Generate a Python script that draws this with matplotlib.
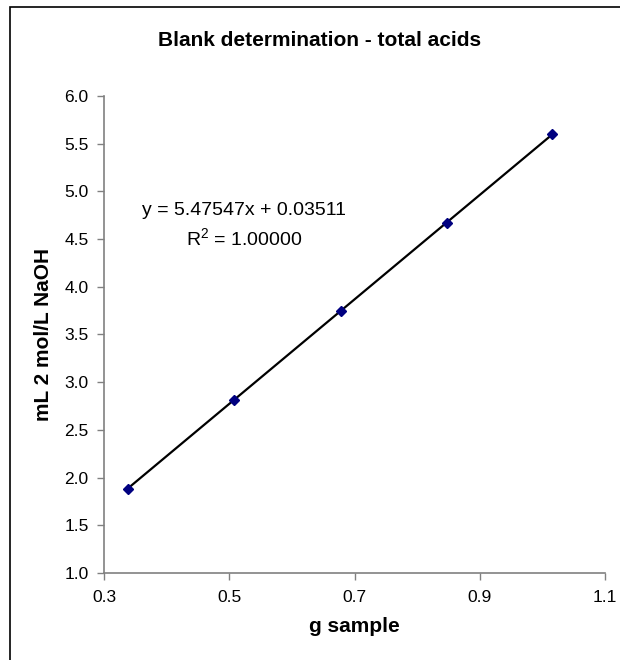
import matplotlib
matplotlib.use('Agg')
import matplotlib.pyplot as plt
from matplotlib.patches import Rectangle

plt.rcParams['font.family'] = ['Liberation Sans', 'DejaVu Sans']

# sample mass (g) and titrant volume (mL)
g_sample = [0.338, 0.507, 0.679, 0.847, 1.016]
ml_naoh = [1.88, 2.81, 3.75, 4.67, 5.60]
slope = 5.47547
intercept = 0.03511

fig = plt.figure(figsize=(6.2, 6.6), dpi=100)
ax = fig.add_axes([104 / 620, 87 / 660, 501 / 620, 477 / 660])

# trendline over the data range
x_fit = [min(g_sample), max(g_sample)]
y_fit = [slope * x + intercept for x in x_fit]
ax.plot(x_fit, y_fit, color='black', lw=1.6, zorder=2)
ax.plot(g_sample, ml_naoh, linestyle='none', marker='D', ms=5.5,
        color='#000080', zorder=3)

ax.set_xlim(0.3, 1.1)
ax.set_ylim(1.0, 6.0)
ax.set_xticks([0.3, 0.5, 0.7, 0.9, 1.1])
ax.set_yticks([1.0, 1.5, 2.0, 2.5, 3.0, 3.5, 4.0, 4.5, 5.0, 5.5, 6.0])
ax.set_xticklabels(['0.3', '0.5', '0.7', '0.9', '1.1'])
ax.set_yticklabels([f'{v:.1f}' for v in ax.get_yticks()])

for side in ['top', 'right']:
    ax.spines[side].set_visible(False)
for side in ['left', 'bottom']:
    ax.spines[side].set_color('#808080')
    ax.spines[side].set_linewidth(1.2)
ax.tick_params(direction='out', length=5, width=1, color='#808080',
               labelsize=12.5, labelcolor='black')
ax.tick_params(axis='x', pad=7)
ax.tick_params(axis='y', pad=6)

ax.set_xlabel('g sample', fontsize=15, fontweight='bold')
ax.set_ylabel('mL 2 mol/L NaOH', fontsize=15, fontweight='bold')
ax.xaxis.set_label_coords(0.5, (573 - 627) / 477)
ax.xaxis.label.set_va('center')
ax.yaxis.set_label_coords((43 - 104) / 501, 0.5)
ax.yaxis.label.set_va('center')

ax.text(0.5236, 4.805, f'y = {slope:.5f}x + {intercept:.5f}',
        fontsize=14, ha='center', va='center')
ax.text(0.5236, 4.51, '$\\mathregular{R^2}$ = 1.00000',
        fontsize=14, ha='center', va='center')

fig.text(320 / 620, 1 - 41 / 660, 'Blank determination - total acids',
         fontsize=15, fontweight='bold', ha='center', va='center')

# chart-area frame (only the left and top edges show)
fig.patches.append(Rectangle((10 / 620, -0.1), 2.0, (660 - 7) / 660 + 0.1,
                             transform=fig.transFigure, fill=False,
                             edgecolor='black', lw=1.2))

fig.savefig('out.png', dpi=100)
